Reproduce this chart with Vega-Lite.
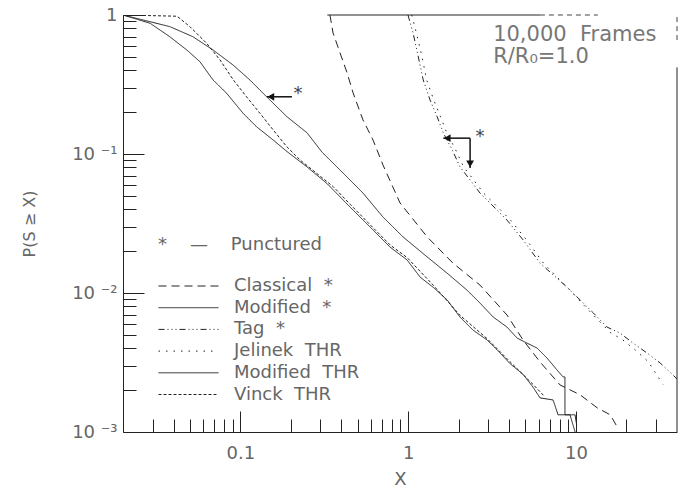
{
  "$schema": "https://vega.github.io/schema/vega-lite/v6.json",
  "width": 554,
  "height": 417,
  "autosize": {"type": "none"},
  "padding": {"left": 123, "top": 15, "right": 5, "bottom": 57},
  "config": {
    "font": "DejaVu Sans",
    "view": {"stroke": null},
    "axis": {"domainColor": "#222", "tickColor": "#222", "labelColor": "#666", "titleColor": "#666", "labelFontSize": 18, "titleFontSize": 18, "titleFontWeight": "normal", "grid": false, "labelFont": "DejaVu Sans", "titleFont": "DejaVu Sans"}
  },
  "datasets": {
    "curves": [
      {"series": "Modified THR", "i": 0, "x": 0.02, "y": 1.0},
      {"series": "Modified THR", "i": 1, "x": 0.029, "y": 0.895},
      {"series": "Modified THR", "i": 2, "x": 0.0381, "y": 0.824},
      {"series": "Modified THR", "i": 3, "x": 0.0522, "y": 0.698},
      {"series": "Modified THR", "i": 4, "x": 0.0688, "y": 0.56},
      {"series": "Modified THR", "i": 5, "x": 0.0905, "y": 0.437},
      {"series": "Modified THR", "i": 6, "x": 0.114, "y": 0.341},
      {"series": "Modified THR", "i": 7, "x": 0.144, "y": 0.257},
      {"series": "Modified THR", "i": 8, "x": 0.19, "y": 0.185},
      {"series": "Modified THR", "i": 9, "x": 0.25, "y": 0.142},
      {"series": "Modified THR", "i": 10, "x": 0.307, "y": 0.103},
      {"series": "Modified THR", "i": 11, "x": 0.393, "y": 0.0767},
      {"series": "Modified THR", "i": 12, "x": 0.538, "y": 0.0524},
      {"series": "Modified THR", "i": 13, "x": 0.708, "y": 0.0352},
      {"series": "Modified THR", "i": 14, "x": 0.933, "y": 0.0253},
      {"series": "Modified THR", "i": 15, "x": 1.297, "y": 0.0182},
      {"series": "Modified THR", "i": 16, "x": 1.706, "y": 0.0139},
      {"series": "Modified THR", "i": 17, "x": 2.24, "y": 0.0105},
      {"series": "Modified THR", "i": 18, "x": 2.68, "y": 0.00847},
      {"series": "Modified THR", "i": 19, "x": 3.21, "y": 0.00672},
      {"series": "Modified THR", "i": 20, "x": 3.88, "y": 0.00569},
      {"series": "Modified THR", "i": 21, "x": 4.46, "y": 0.00474},
      {"series": "Modified THR", "i": 22, "x": 5.11, "y": 0.00436},
      {"series": "Modified THR", "i": 23, "x": 5.86, "y": 0.00402},
      {"series": "Modified THR", "i": 24, "x": 6.73, "y": 0.0034},
      {"series": "Modified THR", "i": 25, "x": 7.72, "y": 0.00279},
      {"series": "Modified THR", "i": 26, "x": 8.38, "y": 0.00249},
      {"series": "Modified THR", "i": 27, "x": 8.6, "y": 0.00249},
      {"series": "Modified THR", "i": 28, "x": 8.6, "y": 0.00133},
      {"series": "Modified THR", "i": 29, "x": 9.88, "y": 0.00133},
      {"series": "Modified THR", "i": 30, "x": 10.1, "y": 0.00112},

      {"series": "Modified *", "i": 0, "x": 0.02, "y": 1.0},
      {"series": "Modified *", "i": 1, "x": 0.029, "y": 0.872},
      {"series": "Modified *", "i": 2, "x": 0.038, "y": 0.698},
      {"series": "Modified *", "i": 3, "x": 0.048, "y": 0.56},
      {"series": "Modified *", "i": 4, "x": 0.0575, "y": 0.461},
      {"series": "Modified *", "i": 5, "x": 0.0688, "y": 0.341},
      {"series": "Modified *", "i": 6, "x": 0.083, "y": 0.273},
      {"series": "Modified *", "i": 7, "x": 0.104, "y": 0.196},
      {"series": "Modified *", "i": 8, "x": 0.125, "y": 0.157},
      {"series": "Modified *", "i": 9, "x": 0.157, "y": 0.126},
      {"series": "Modified *", "i": 10, "x": 0.19, "y": 0.104},
      {"series": "Modified *", "i": 11, "x": 0.249, "y": 0.081},
      {"series": "Modified *", "i": 12, "x": 0.33, "y": 0.061},
      {"series": "Modified *", "i": 13, "x": 0.45, "y": 0.0416},
      {"series": "Modified *", "i": 14, "x": 0.618, "y": 0.0284},
      {"series": "Modified *", "i": 15, "x": 0.78, "y": 0.0214},
      {"series": "Modified *", "i": 16, "x": 0.985, "y": 0.0173},
      {"series": "Modified *", "i": 17, "x": 1.18, "y": 0.013},
      {"series": "Modified *", "i": 18, "x": 1.41, "y": 0.011},
      {"series": "Modified *", "i": 19, "x": 1.71, "y": 0.0089},
      {"series": "Modified *", "i": 20, "x": 2.04, "y": 0.0067},
      {"series": "Modified *", "i": 21, "x": 2.44, "y": 0.0054},
      {"series": "Modified *", "i": 22, "x": 2.95, "y": 0.0046},
      {"series": "Modified *", "i": 23, "x": 3.39, "y": 0.0039},
      {"series": "Modified *", "i": 24, "x": 4.05, "y": 0.0031},
      {"series": "Modified *", "i": 25, "x": 4.84, "y": 0.0026},
      {"series": "Modified *", "i": 26, "x": 5.55, "y": 0.0021},
      {"series": "Modified *", "i": 27, "x": 6.11, "y": 0.00176},
      {"series": "Modified *", "i": 28, "x": 7.31, "y": 0.0017},
      {"series": "Modified *", "i": 29, "x": 7.82, "y": 0.00133},
      {"series": "Modified *", "i": 30, "x": 9.22, "y": 0.00133},
      {"series": "Modified *", "i": 31, "x": 9.88, "y": 0.001},

      {"series": "Vinck THR", "i": 0, "x": 0.02, "y": 1.0},
      {"series": "Vinck THR", "i": 1, "x": 0.042, "y": 0.98},
      {"series": "Vinck THR", "i": 2, "x": 0.0501, "y": 0.824},
      {"series": "Vinck THR", "i": 3, "x": 0.063, "y": 0.626},
      {"series": "Vinck THR", "i": 4, "x": 0.0757, "y": 0.475},
      {"series": "Vinck THR", "i": 5, "x": 0.0909, "y": 0.341},
      {"series": "Vinck THR", "i": 6, "x": 0.109, "y": 0.258},
      {"series": "Vinck THR", "i": 7, "x": 0.131, "y": 0.196},
      {"series": "Vinck THR", "i": 8, "x": 0.157, "y": 0.149},
      {"series": "Vinck THR", "i": 9, "x": 0.189, "y": 0.113},
      {"series": "Vinck THR", "i": 10, "x": 0.227, "y": 0.0906},
      {"series": "Vinck THR", "i": 11, "x": 0.285, "y": 0.0726},
      {"series": "Vinck THR", "i": 12, "x": 0.358, "y": 0.0582},
      {"series": "Vinck THR", "i": 13, "x": 0.451, "y": 0.0435},
      {"series": "Vinck THR", "i": 14, "x": 0.618, "y": 0.0295},
      {"series": "Vinck THR", "i": 15, "x": 0.78, "y": 0.0222},
      {"series": "Vinck THR", "i": 16, "x": 0.985, "y": 0.018},
      {"series": "Vinck THR", "i": 17, "x": 1.41, "y": 0.0114},
      {"series": "Vinck THR", "i": 18, "x": 2.04, "y": 0.0069},
      {"series": "Vinck THR", "i": 19, "x": 2.95, "y": 0.0047},
      {"series": "Vinck THR", "i": 20, "x": 4.05, "y": 0.0032},
      {"series": "Vinck THR", "i": 21, "x": 5.55, "y": 0.0022},
      {"series": "Vinck THR", "i": 22, "x": 6.5, "y": 0.0018},

      {"series": "Classical *", "i": 0, "x": 0.342, "y": 1.0},
      {"series": "Classical *", "i": 1, "x": 0.357, "y": 0.743},
      {"series": "Classical *", "i": 2, "x": 0.393, "y": 0.533},
      {"series": "Classical *", "i": 3, "x": 0.433, "y": 0.383},
      {"series": "Classical *", "i": 4, "x": 0.47, "y": 0.275},
      {"series": "Classical *", "i": 5, "x": 0.538, "y": 0.176},
      {"series": "Classical *", "i": 6, "x": 0.618, "y": 0.126},
      {"series": "Classical *", "i": 7, "x": 0.708, "y": 0.0834},
      {"series": "Classical *", "i": 8, "x": 0.895, "y": 0.0444},
      {"series": "Classical *", "i": 9, "x": 1.3, "y": 0.0253},
      {"series": "Classical *", "i": 10, "x": 1.85, "y": 0.0164},
      {"series": "Classical *", "i": 11, "x": 2.68, "y": 0.0114},
      {"series": "Classical *", "i": 12, "x": 3.88, "y": 0.00695},
      {"series": "Classical *", "i": 13, "x": 4.84, "y": 0.00459},
      {"series": "Classical *", "i": 14, "x": 6.11, "y": 0.00319},
      {"series": "Classical *", "i": 15, "x": 8.04, "y": 0.00218},
      {"series": "Classical *", "i": 16, "x": 10.6, "y": 0.00185},
      {"series": "Classical *", "i": 17, "x": 13.4, "y": 0.00149},
      {"series": "Classical *", "i": 18, "x": 16.0, "y": 0.00133},
      {"series": "Classical *", "i": 19, "x": 17.6, "y": 0.00109},

      {"series": "Tag *", "i": 0, "x": 0.998, "y": 1.0},
      {"series": "Tag *", "i": 1, "x": 1.07, "y": 0.743},
      {"series": "Tag *", "i": 2, "x": 1.15, "y": 0.499},
      {"series": "Tag *", "i": 3, "x": 1.23, "y": 0.341},
      {"series": "Tag *", "i": 4, "x": 1.35, "y": 0.245},
      {"series": "Tag *", "i": 5, "x": 1.49, "y": 0.185},
      {"series": "Tag *", "i": 6, "x": 1.62, "y": 0.142},
      {"series": "Tag *", "i": 7, "x": 1.83, "y": 0.107},
      {"series": "Tag *", "i": 8, "x": 2.04, "y": 0.0806},
      {"series": "Tag *", "i": 9, "x": 2.34, "y": 0.065},
      {"series": "Tag *", "i": 10, "x": 2.68, "y": 0.0524},
      {"series": "Tag *", "i": 11, "x": 2.95, "y": 0.0467},
      {"series": "Tag *", "i": 12, "x": 3.88, "y": 0.0335},
      {"series": "Tag *", "i": 13, "x": 4.84, "y": 0.0241},
      {"series": "Tag *", "i": 14, "x": 6.11, "y": 0.0164},
      {"series": "Tag *", "i": 15, "x": 8.85, "y": 0.011},
      {"series": "Tag *", "i": 16, "x": 10.6, "y": 0.0089},
      {"series": "Tag *", "i": 17, "x": 12.7, "y": 0.00718},
      {"series": "Tag *", "i": 18, "x": 15.3, "y": 0.00569},
      {"series": "Tag *", "i": 19, "x": 18.3, "y": 0.00515},
      {"series": "Tag *", "i": 20, "x": 21.9, "y": 0.00436},
      {"series": "Tag *", "i": 21, "x": 26.5, "y": 0.0037},
      {"series": "Tag *", "i": 22, "x": 31.7, "y": 0.00314},
      {"series": "Tag *", "i": 23, "x": 37.9, "y": 0.00257},
      {"series": "Tag *", "i": 24, "x": 40, "y": 0.0024},

      {"series": "Jelinek THR", "i": 0, "x": 1.05, "y": 1.0},
      {"series": "Jelinek THR", "i": 1, "x": 1.12, "y": 0.743},
      {"series": "Jelinek THR", "i": 2, "x": 1.21, "y": 0.499},
      {"series": "Jelinek THR", "i": 3, "x": 1.29, "y": 0.341},
      {"series": "Jelinek THR", "i": 4, "x": 1.42, "y": 0.245},
      {"series": "Jelinek THR", "i": 5, "x": 1.56, "y": 0.185},
      {"series": "Jelinek THR", "i": 6, "x": 1.7, "y": 0.142},
      {"series": "Jelinek THR", "i": 7, "x": 1.92, "y": 0.107},
      {"series": "Jelinek THR", "i": 8, "x": 2.14, "y": 0.0806},
      {"series": "Jelinek THR", "i": 9, "x": 2.46, "y": 0.065},
      {"series": "Jelinek THR", "i": 10, "x": 2.81, "y": 0.0524},
      {"series": "Jelinek THR", "i": 11, "x": 3.1, "y": 0.0467},
      {"series": "Jelinek THR", "i": 12, "x": 4.07, "y": 0.0335},
      {"series": "Jelinek THR", "i": 13, "x": 5.08, "y": 0.0241},
      {"series": "Jelinek THR", "i": 14, "x": 6.4, "y": 0.0164},
      {"series": "Jelinek THR", "i": 15, "x": 9.2, "y": 0.0105},
      {"series": "Jelinek THR", "i": 16, "x": 11, "y": 0.0083},
      {"series": "Jelinek THR", "i": 17, "x": 13.2, "y": 0.0066},
      {"series": "Jelinek THR", "i": 18, "x": 16, "y": 0.0052},
      {"series": "Jelinek THR", "i": 19, "x": 19, "y": 0.0046},
      {"series": "Jelinek THR", "i": 20, "x": 22.5, "y": 0.0039},
      {"series": "Jelinek THR", "i": 21, "x": 27, "y": 0.0032},
      {"series": "Jelinek THR", "i": 22, "x": 33, "y": 0.0022}
    ],
    "frameSolid": [
      {"x": 0.33, "x2": 6.1, "y": 1, "y2": 1},
      {"x": 40, "x2": 40, "y": 0.001, "y2": 0.42}
    ],
    "frameBroken": [
      {"x": 6.1, "x2": 13.5, "y": 1, "y2": 1},
      {"x": 40, "x2": 40, "y": 0.66, "y2": 1}
    ],
    "arrows": [
      {"x": 0.203, "x2": 0.144, "y": 0.258, "y2": 0.258},
      {"x": 2.34, "x2": 1.62, "y": 0.13, "y2": 0.13},
      {"x": 2.34, "x2": 2.34, "y": 0.13, "y2": 0.0793}
    ],
    "heads": [
      {"x": 0.152, "y": 0.258, "dir": "left"},
      {"x": 1.71, "y": 0.13, "dir": "left"},
      {"x": 2.34, "y": 0.0848, "dir": "down"}
    ],
    "stars": [
      {"x": 0.221, "y": 0.27, "label": "*"},
      {"x": 2.68, "y": 0.132, "label": "*"}
    ],
    "notes": [
      {"x": 3.21, "y": 0.718, "label": "10,000\u00a0\u00a0Frames"},
      {"x": 3.21, "y": 0.499, "label": "R/R₀=1.0"}
    ]
  },
  "layer": [
    {
      "data": {"name": "curves"},
      "mark": {"type": "line", "strokeWidth": 1, "color": "#222", "clip": true},
      "encoding": {
        "x": {"field": "x", "type": "quantitative", "scale": {"type": "log", "domain": [0.02, 40]},
          "axis": {"orient": "bottom", "values": [0.1, 1, 10], "tickSize": -21, "labelPadding": 33, "title": "X", "titlePadding": 8, "labelExpr": "datum.value < 0.5 ? '0.1' : datum.value < 5 ? '1' : '10'"}},
        "y": {"field": "y", "type": "quantitative", "scale": {"type": "log", "domain": [0.001, 1]},
          "axis": {"orient": "left", "values": [1, 0.1, 0.01, 0.001], "tickSize": -21, "labelPadding": 27, "title": "P(S ≥ X)", "titleFontSize": 16, "titlePadding": 34, "labelExpr": "datum.value > 0.5 ? '1\u00a0\u00a0\u00a0' : datum.value > 0.05 ? '10\u00a0⁻¹' : datum.value > 0.005 ? '10\u00a0⁻²' : '10\u00a0⁻³'"}},
        "strokeDash": {"field": "series", "type": "nominal",
          "scale": {"domain": ["Classical *", "Modified *", "Tag *", "Jelinek THR", "Modified THR", "Vinck THR"],
                    "range": [[8, 5], [1, 0], [6, 3, 1, 3, 1, 3, 1, 3], [1.5, 6], [1, 0], [3, 2]]},
          "legend": {"orient": "none", "legendX": 35, "legendY": 221, "title": "*\u00a0\u00a0\u00a0\u00a0—\u00a0\u00a0\u00a0\u00a0Punctured", "titleFontSize": 18, "titleFontWeight": "normal", "titleColor": "#666", "titlePadding": 22, "labelFontSize": 18, "labelColor": "#666", "labelOffset": 15, "labelLimit": 300, "symbolType": "stroke", "symbolSize": 3600, "symbolStrokeColor": "#222", "symbolStrokeWidth": 1, "clipHeight": 20, "rowPadding": 1.7, "padding": 0, "labelExpr": "replace(datum.label, ' ', '\u00a0\u00a0')"}},
        "order": {"field": "i", "type": "quantitative"}
      }
    },
    {
      "data": {"name": "frameSolid"},
      "mark": {"type": "rule", "strokeWidth": 1, "color": "#222"},
      "encoding": {
        "x": {"field": "x", "type": "quantitative", "scale": {"type": "log", "domain": [0.02, 40]},
          "axis": {"orient": "bottom", "values": [0.03, 0.04, 0.05, 0.06, 0.07, 0.08, 0.09, 0.2, 0.3, 0.4, 0.5, 0.6, 0.7, 0.8, 0.9, 2, 3, 4, 5, 6, 7, 8, 9, 20, 30], "tickSize": -13, "labels": false, "domain": false, "title": null}},
        "x2": {"field": "x2"},
        "y": {"field": "y", "type": "quantitative", "scale": {"type": "log", "domain": [0.001, 1]},
          "axis": {"orient": "left", "values": [0.9, 0.8, 0.7, 0.6, 0.5, 0.4, 0.3, 0.2, 0.09, 0.08, 0.07, 0.06, 0.05, 0.04, 0.03, 0.02, 0.009, 0.008, 0.007, 0.006, 0.005, 0.004, 0.003, 0.002], "tickSize": -13, "labels": false, "domain": false, "title": null}},
        "y2": {"field": "y2"}
      }
    },
    {
      "data": {"name": "frameBroken"},
      "mark": {"type": "rule", "strokeWidth": 1, "color": "#444", "strokeDash": [5, 4]},
      "encoding": {
        "x": {"field": "x", "type": "quantitative", "scale": {"type": "log", "domain": [0.02, 40]}, "axis": null},
        "x2": {"field": "x2"},
        "y": {"field": "y", "type": "quantitative", "scale": {"type": "log", "domain": [0.001, 1]}, "axis": null},
        "y2": {"field": "y2"}
      }
    },
    {
      "data": {"name": "arrows"},
      "mark": {"type": "rule", "strokeWidth": 1.5, "color": "#111"},
      "encoding": {
        "x": {"field": "x", "type": "quantitative", "scale": {"type": "log", "domain": [0.02, 40]}, "axis": null},
        "x2": {"field": "x2"},
        "y": {"field": "y", "type": "quantitative", "scale": {"type": "log", "domain": [0.001, 1]}, "axis": null},
        "y2": {"field": "y2"}
      }
    },
    {
      "data": {"name": "heads"},
      "mark": {"type": "point", "filled": true, "color": "#111", "size": 60, "opacity": 1},
      "encoding": {
        "x": {"field": "x", "type": "quantitative", "scale": {"type": "log", "domain": [0.02, 40]}, "axis": null},
        "y": {"field": "y", "type": "quantitative", "scale": {"type": "log", "domain": [0.001, 1]}, "axis": null},
        "shape": {"field": "dir", "type": "nominal", "scale": {"domain": ["left", "down"], "range": ["triangle-left", "triangle-down"]}, "legend": null}
      }
    },
    {
      "data": {"name": "stars"},
      "mark": {"type": "text", "fontSize": 18, "color": "#444", "align": "center", "baseline": "middle"},
      "encoding": {
        "x": {"field": "x", "type": "quantitative", "scale": {"type": "log", "domain": [0.02, 40]}, "axis": null},
        "y": {"field": "y", "type": "quantitative", "scale": {"type": "log", "domain": [0.001, 1]}, "axis": null},
        "text": {"field": "label"}
      }
    },
    {
      "data": {"name": "notes"},
      "mark": {"type": "text", "fontSize": 21, "color": "#777", "align": "left", "baseline": "middle"},
      "encoding": {
        "x": {"field": "x", "type": "quantitative", "scale": {"type": "log", "domain": [0.02, 40]}, "axis": null},
        "y": {"field": "y", "type": "quantitative", "scale": {"type": "log", "domain": [0.001, 1]}, "axis": null},
        "text": {"field": "label"}
      }
    }
  ],
  "resolve": {"axis": {"x": "independent", "y": "independent"}, "scale": {"strokeDash": "independent"}}
}
